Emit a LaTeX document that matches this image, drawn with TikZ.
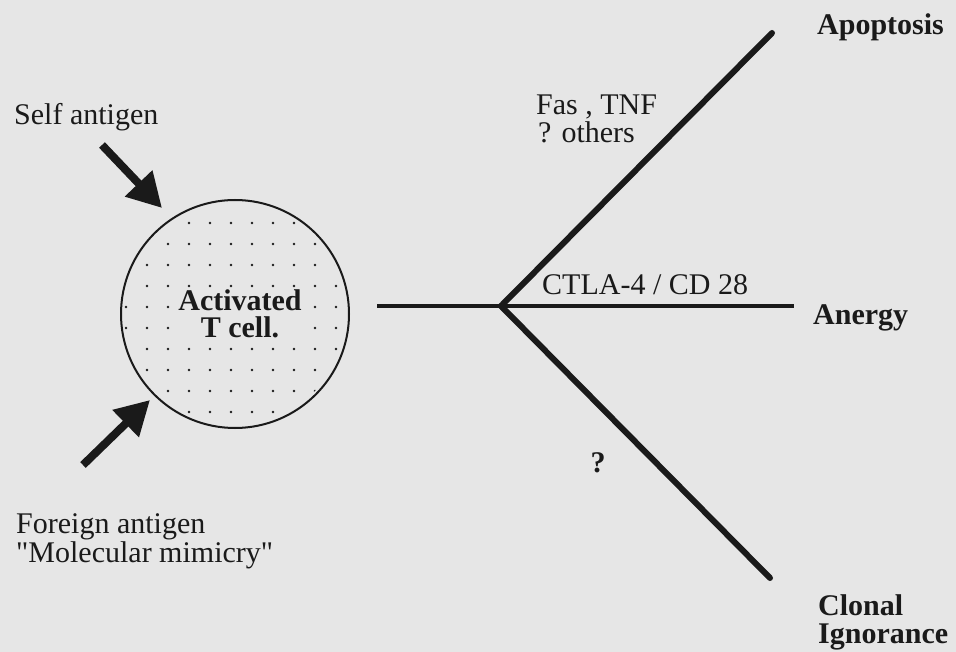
\documentclass[tikz,border=0pt]{standalone}
\usepackage{fontspec}
\setmainfont{Liberation Serif}[Ligatures=TeXOff]
\usetikzlibrary{arrows.meta}
\definecolor{bg}{HTML}{E6E6E6}
\definecolor{ink}{HTML}{1A1A1A}
\begin{document}
\begin{tikzpicture}[x=1pt,y=-1pt,
  lbl/.style={font=\fontsize{30}{30}\selectfont, text=ink, inner sep=0pt, anchor=base west},
  blbl/.style={lbl, font=\fontsize{30}{30}\selectfont\bfseries},
  branch/.style={line width=6pt, draw=ink, line cap=round},
  stem/.style={line width=4.5pt, draw=ink},
  bigarrow/.style={line width=8pt, draw=ink, -{Triangle[length=34pt,width=36pt]}},
  celldot/.style={fill=ink}]
\fill[bg] (0,0) rectangle (956,652);
\useasboundingbox (0,0) rectangle (956,652);

% cell with dotted fill
\begin{scope}
  \clip (235,314) circle (111pt);
  \foreach \i in {0,...,10}
    \foreach \k in {0,...,9}
      \fill[celldot] ({126+21*\i},{223+21*\k}) circle (1.3pt);
\end{scope}
\node[circle, draw=ink, line width=2pt, minimum size=228pt, inner sep=0pt] (cell) at (235,314) {};
\node[blbl, font=\fontsize{30}{27}\selectfont\bfseries, align=center, anchor=north,
      fill=bg, inner sep=0pt] (act) at (240,289.5) {Activated\\T cell.};

% antigen labels and arrows
\node[lbl] (self) at (14,125) {Self antigen};
\coordinate (satail) at (102,145);
\coordinate (satip) at (162,208);
\draw[bigarrow] (satail) -- (satip);

\node[lbl] (foreign) at (16,533) {Foreign antigen};
\node[lbl] (mimic) at (16,562) {"Molecular mimicry"};
\coordinate (fatail) at (83,465);
\coordinate (fatip) at (150,400);
\draw[bigarrow] (fatail) -- (fatip);

% branching outcomes
\coordinate (stemL) at (377,306);
\coordinate (j) at (501,306);
\coordinate (apoE) at (772,33);
\coordinate (anE) at (794,306);
\coordinate (cloE) at (770,578);
\draw[stem] (stemL) -- (j) -- (anE);
\draw[branch] (j) -- (apoE);
\draw[branch] (j) -- (cloE);

\node[blbl] (apo) at (817,35) {Apoptosis};
\node[blbl] (anergy) at (813,325) {Anergy};
\node[blbl] (clonal) at (818,615) {Clonal};
\node[blbl] (ignor) at (818,643) {Ignorance};

\node[lbl] (fas) at (536,115) {Fas , TNF};
\node[lbl] (others) at (538,143) {? others};
\node[lbl] (ctla) at (542,295) {CTLA-4 / CD 28};
\node[blbl, anchor=base] (q) at (598,472) {?};
\end{tikzpicture}
\end{document}
